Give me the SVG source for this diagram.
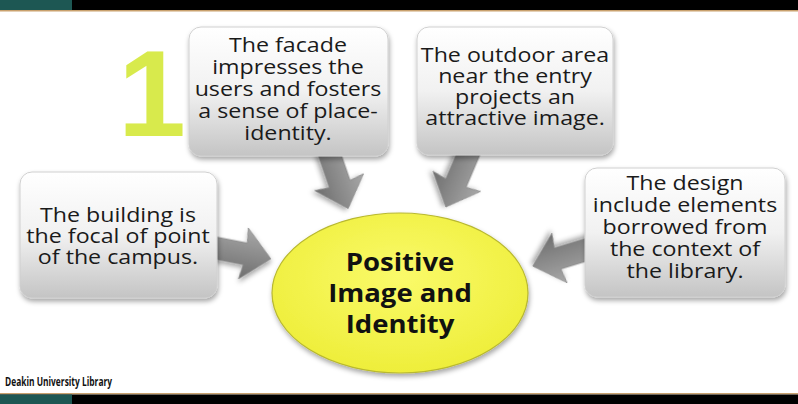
<svg xmlns="http://www.w3.org/2000/svg" width="798" height="404" viewBox="0 0 798 404">
<defs>
<linearGradient id="boxg" x1="0" y1="0" x2="0" y2="1">
<stop offset="0" stop-color="#ffffff"/>
<stop offset="0.5" stop-color="#f1f1f1"/>
<stop offset="1" stop-color="#c4c4c4"/>
</linearGradient>
<linearGradient id="arrg" x1="0" y1="0" x2="0" y2="1">
<stop offset="0" stop-color="#a8a8a8"/>
<stop offset="1" stop-color="#6e6e6e"/>
</linearGradient>
<radialGradient id="ellg" cx="0.5" cy="0.4" r="0.6">
<stop offset="0" stop-color="#fafa6a"/>
<stop offset="1" stop-color="#eeee3a"/>
</radialGradient>
<filter id="sh" x="-10%" y="-10%" width="125%" height="130%">
<feDropShadow dx="1" dy="3" stdDeviation="2.5" flood-color="#000" flood-opacity="0.35"/>
</filter>
<path id="arr" d="M0,-11 L36,-11 L34,-26 L62,0 L34,26 L36,11 L0,11 Z"/>
</defs>
<style>
.box{fill:url(#boxg);stroke:#d0d0d0;stroke-width:1;filter:url(#sh)}
.t{font-family:"Open Sans","Liberation Sans",sans-serif;font-size:20px;fill:#1a1a1a;text-anchor:middle}
.c{font-family:"Open Sans","Liberation Sans",sans-serif;font-size:25px;font-weight:bold;fill:#111;text-anchor:middle}
.a{fill:url(#arrg);stroke:#8a8a8a;stroke-width:0.8;filter:url(#sh)}
</style>
<rect x="0" y="0" width="798" height="404" fill="#ffffff"/>
<rect x="0" y="0" width="798" height="10" fill="#000"/>
<rect x="0" y="0" width="72" height="10" fill="#1d5753"/>
<rect x="0" y="10" width="798" height="1.5" fill="#c9a16e"/>
<rect x="0" y="393" width="798" height="1.5" fill="#c9a16e"/>
<rect x="0" y="394.5" width="798" height="10" fill="#000"/>
<rect x="0" y="394.5" width="72" height="10" fill="#1d5753"/>
<text x="152" y="136" font-family="Liberation Sans,sans-serif" font-size="122" font-weight="bold" fill="#d8ea4c" text-anchor="middle">1</text>
<g id="connectors">
<use href="#arr" class="a" transform="translate(328,150) rotate(71)"/>
<use href="#arr" class="a" transform="translate(470,150) rotate(113)"/>
<use href="#arr" class="a" transform="translate(210,247) rotate(11)"/>
<use href="#arr" class="a" transform="translate(592,248) rotate(163)"/>
</g>
<g id="facade">
<rect class="box" x="189" y="27" width="199" height="129" rx="12"/>
<text class="t" transform="translate(288,0) scale(1.16,1)"><tspan x="0" y="52">The facade</tspan><tspan x="0" y="74">impresses the</tspan><tspan x="0" y="96">users and fosters</tspan><tspan x="0" y="118">a sense of place-</tspan><tspan x="0" y="140">identity.</tspan></text>
</g>
<g id="outdoor">
<rect class="box" x="417" y="27" width="196" height="128" rx="12"/>
<text class="t" transform="translate(515,0) scale(1.16,1)"><tspan x="0" y="62">The outdoor area</tspan><tspan x="0" y="83">near the entry</tspan><tspan x="0" y="104">projects an</tspan><tspan x="0" y="125">attractive image.</tspan></text>
</g>
<g id="building">
<rect class="box" x="20" y="172" width="197" height="126" rx="12"/>
<text class="t" transform="translate(118,0) scale(1.16,1)"><tspan x="0" y="222">The building is</tspan><tspan x="0" y="243">the focal of point</tspan><tspan x="0" y="264">of the campus.</tspan></text>
</g>
<g id="design">
<rect class="box" x="585" y="168" width="200" height="129" rx="12"/>
<text class="t" transform="translate(685,0) scale(1.16,1)"><tspan x="0" y="190">The design</tspan><tspan x="0" y="212">include elements</tspan><tspan x="0" y="234">borrowed from</tspan><tspan x="0" y="256">the context of</tspan><tspan x="0" y="278">the library.</tspan></text>
</g>
<g id="center">
<ellipse cx="400" cy="293" rx="128" ry="80" fill="url(#ellg)" stroke="#b8b830" stroke-width="1.2" filter="url(#sh)"/>
<text class="c" transform="translate(400,0) scale(1.1,1)"><tspan x="0" y="271">Positive</tspan><tspan x="0" y="302">Image and</tspan><tspan x="0" y="333">Identity</tspan></text>
</g>
<text transform="translate(5,386) scale(0.7,1)" x="0" y="0" font-family="Open Sans,Liberation Sans,sans-serif" font-size="12" font-weight="bold" fill="#111">Deakin University Library</text>
</svg>
